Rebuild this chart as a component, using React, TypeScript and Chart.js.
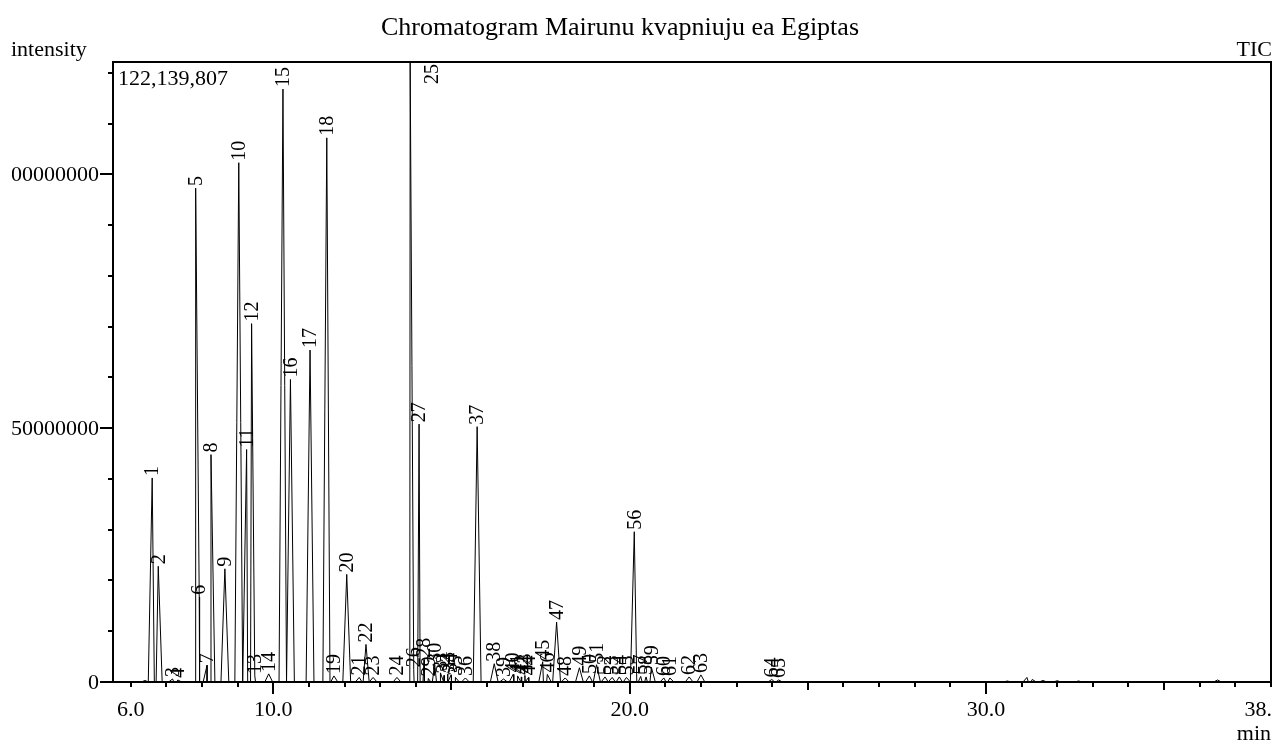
import React, { useEffect, useRef } from "react";
import { Chart, registerables } from "chart.js";

Chart.register(...registerables);

// ---- texts ----
const TITLE = "Chromatogram Mairunu kvapniuju ea Egiptas";
const Y_AXIS_TITLE = "intensity";
const TRACE_NAME = "TIC";
const X_UNIT = "min";
const MAX_INTENSITY = 122139807;
const MAX_LABEL = "122,139,807";

// ---- labelled peaks (retention time in min, apex intensity) ----
const peakNumbers = [
  1, 2, 3, 4, 5, 6, 7, 8, 9, 10, 11, 12, 13, 14, 15, 16, 17, 18, 19, 20, 21, 22,
  23, 24, 25, 26, 27, 28, 29, 30, 31, 32, 33, 34, 35, 36, 37, 38, 39, 40, 41, 42,
  43, 44, 45, 46, 47, 48, 49, 50, 51, 52, 53, 54, 55, 56, 57, 58, 59, 60, 61, 62,
  63, 64, 65,
];
const peakTimes = [
  6.6, 6.77, 7.17, 7.32, 7.82, 7.92, 8.14, 8.25, 8.64, 9.03, 9.25, 9.39, 9.48,
  9.87, 10.27, 10.48, 11.03, 11.5, 11.7, 12.06, 12.41, 12.6, 12.8, 13.47,
  13.84, 13.94, 14.09, 14.23, 14.35, 14.53, 14.69, 14.79, 14.89, 14.99, 15.11,
  15.39, 15.72, 16.2, 16.46, 16.73, 16.86, 16.96, 17.06, 17.16, 17.56, 17.69,
  17.95, 18.19, 18.59, 18.87, 19.07, 19.31, 19.51, 19.71, 19.91, 20.13, 20.31,
  20.46, 20.61, 20.96, 21.13, 21.67, 22.0, 23.99, 24.18,
];
const peakHeights = [
  40200000, 22800000, 600000, 400000, 97300000, 16800000, 3300000, 44800000,
  22300000, 102300000, 45800000, 70600000, 1200000, 1600000, 116800000,
  59600000, 65400000, 107200000, 1200000, 21200000, 900000, 7400000, 900000,
  900000, 122139807, 2500000, 50800000, 4400000, 700000, 3400000, 1800000,
  1300000, 1600000, 1400000, 900000, 800000, 50300000, 3600000, 600000,
  1500000, 1200000, 1000000, 1300000, 900000, 4000000, 1500000, 11800000,
  800000, 2800000, 1200000, 3400000, 1000000, 900000, 1000000, 900000,
  29600000, 1100000, 1000000, 2900000, 800000, 800000, 1000000, 1400000,
  500000, 400000,
];

// ---- small unlabelled bumps of the trace ----
const minorPeakTimes = [6.4, 30.6, 31.15, 31.3, 31.6, 32.0, 32.6, 36.5];
const minorPeakHeights = [300000, 200000, 900000, 500000, 300000, 250000, 200000, 400000];

// ---- axes ----
const xMin = 5.5;
const xMax = 38.0;
const xTickValues = [6, 10, 20, 30, 38];
const xTickLabels = ["6.0", "10.0", "20.0", "30.0", "38."];
const yTickValues = [0, 50000000, 100000000];
const yTickLabels = ["0", "50000000", "100000000"];

const FONT_FAMILY = "'Liberation Serif', 'Times New Roman', serif";

function buildTrace() {
  const half = 0.11;
  const times = [...peakTimes, ...minorPeakTimes];
  const heights = [...peakHeights, ...minorPeakHeights];
  const pts: { x: number; y: number }[] = [{ x: xMin, y: 0 }];
  times.forEach((t, i) => {
    pts.push({ x: t - half, y: 0 });
    pts.push({ x: t, y: heights[i] });
    pts.push({ x: t + half, y: 0 });
  });
  pts.push({ x: xMax, y: 0 });
  pts.sort((a, b) => a.x - b.x);
  return pts;
}

const decorPlugin = {
  id: "chromDecor",
  afterDatasetsDraw(chart: any) {
    const ctx: CanvasRenderingContext2D = chart.ctx;
    const { left, right, top, bottom } = chart.chartArea;
    const xs = chart.scales.x;
    const ys = chart.scales.y;
    ctx.save();
    ctx.fillStyle = "#000";
    ctx.strokeStyle = "#000";

    // frame
    ctx.lineWidth = 2;
    ctx.strokeRect(left, top, right - left, bottom - top);

    // x ticks (every minute, longer every 5 and 10)
    ctx.beginPath();
    for (let v = Math.ceil(xMin); v <= xMax; v++) {
      const px = Math.round(xs.getPixelForValue(v));
      const len = v % 10 === 0 ? 12 : v % 5 === 0 ? 8 : 5;
      ctx.moveTo(px, bottom);
      ctx.lineTo(px, bottom + len);
    }
    // y ticks (every 10M, longer every 50M)
    for (let v = 0; v <= MAX_INTENSITY; v += 10000000) {
      const py = Math.round(ys.getPixelForValue(v));
      const len = v % 50000000 === 0 ? 13 : 5;
      ctx.moveTo(left, py);
      ctx.lineTo(left - len, py);
    }
    ctx.stroke();

    // x tick labels
    ctx.font = `22px ${FONT_FAMILY}`;
    ctx.textBaseline = "alphabetic";
    xTickValues.forEach((v, i) => {
      const txt = xTickLabels[i];
      const px = xs.getPixelForValue(v);
      const w = ctx.measureText(txt).width;
      if (px + w / 2 > chart.width) {
        ctx.textAlign = "right";
        ctx.fillText(txt, chart.width - 1, bottom + 34);
      } else {
        ctx.textAlign = "center";
        ctx.fillText(txt, px, bottom + 34);
      }
    });

    // y tick labels (clipped at the left)
    ctx.save();
    ctx.beginPath();
    ctx.rect(4, 0, left, chart.height);
    ctx.clip();
    ctx.textAlign = "right";
    ctx.textBaseline = "middle";
    yTickValues.forEach((v, i) => {
      ctx.fillText(yTickLabels[i], left - 14, ys.getPixelForValue(v) + 1);
    });
    ctx.restore();

    // texts
    ctx.textBaseline = "alphabetic";
    ctx.textAlign = "left";
    ctx.fillText(Y_AXIS_TITLE, 3, 48);
    ctx.fillText(MAX_LABEL, left + 5, top + 23);
    ctx.textAlign = "right";
    ctx.fillText(TRACE_NAME, right + 1, 48);
    ctx.fillText(X_UNIT, right, bottom + 58);
    ctx.font = `26px ${FONT_FAMILY}`;
    ctx.textAlign = "center";
    ctx.fillText(TITLE, 612, 27);

    // peak numbers
    ctx.font = `20px ${FONT_FAMILY}`;
    ctx.textAlign = "left";
    ctx.textBaseline = "middle";
    peakNumbers.forEach((n, i) => {
      const txt = String(n);
      const w = ctx.measureText(txt).width;
      let px = xs.getPixelForValue(peakTimes[i]) + 1;
      let py = ys.getPixelForValue(peakHeights[i]) - 2;
      if (py - w < top + 1) {
        px += 22;
        py = top + 2 + w;
      }
      ctx.save();
      ctx.translate(px, py);
      ctx.rotate(-Math.PI / 2);
      ctx.fillText(txt, 0, 0);
      ctx.restore();
    });

    ctx.restore();
  },
};

export default function App() {
  const ref = useRef<HTMLCanvasElement | null>(null);
  useEffect(() => {
    document.documentElement.style.overflow = "hidden";
    if (!ref.current) return;
    const chart = new Chart(ref.current, {
      type: "line",
      data: {
        datasets: [
          {
            data: buildTrace(),
            borderColor: "#000",
            borderWidth: 1,
            pointRadius: 0,
            tension: 0,
            fill: false,
          },
        ],
      },
      options: {
        animation: false,
        responsive: false,
        maintainAspectRatio: false,
        devicePixelRatio: 1,
        layout: { padding: { left: 105, right: 2, top: 54, bottom: 63 } },
        scales: {
          x: { type: "linear", min: xMin, max: xMax, display: false },
          y: { type: "linear", min: 0, max: MAX_INTENSITY, display: false },
        },
        plugins: {
          legend: { display: false },
          tooltip: { enabled: false },
        },
      },
      plugins: [decorPlugin],
    } as any);
    return () => chart.destroy();
  }, []);
  return (
    <div style={{ width: 1265, height: 737 }}>
      <canvas ref={ref} width={1265} height={737} style={{ display: "block" }} />
    </div>
  );
}
